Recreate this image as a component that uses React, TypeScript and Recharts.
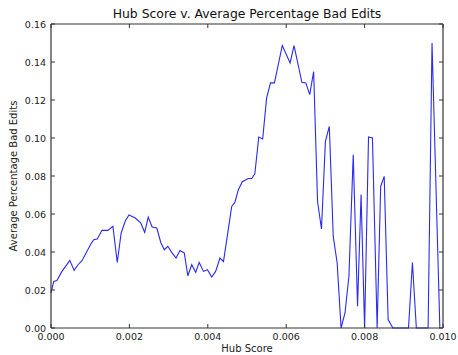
import React from 'react';
import { LineChart, Line, XAxis, YAxis } from 'recharts';

// Hub score (x) and average share of bad edits (y)
const hubScore = [
  0.0, 0.00007, 0.00015, 0.00028, 0.00048, 0.00059, 0.00069, 0.00079, 0.00103, 0.00109,
  0.00118, 0.0013, 0.00145, 0.00158, 0.00169, 0.00179, 0.0019, 0.00199, 0.00215, 0.00229,
  0.00239, 0.00248, 0.00258, 0.0027, 0.0028, 0.00289, 0.00298, 0.00308, 0.00319, 0.00329,
  0.0034, 0.00349, 0.00359, 0.00369, 0.00378, 0.00389, 0.00399, 0.0041, 0.0042, 0.00431,
  0.0044, 0.00461, 0.00469, 0.00478, 0.00488, 0.00503, 0.00512, 0.0052, 0.0053,
  0.0054, 0.0055, 0.0056, 0.0057, 0.0059, 0.0061, 0.0062, 0.0064, 0.0065, 0.0066,
  0.0067, 0.0068, 0.0069, 0.007, 0.0071, 0.0072, 0.0073, 0.0074, 0.0075, 0.0076,
  0.00771, 0.00782, 0.00791, 0.008, 0.0081, 0.0082, 0.00832, 0.00841, 0.0085, 0.0086,
  0.00872, 0.00912, 0.00922, 0.00932, 0.00962, 0.00972, 0.00992,
];

const badEdits = [
  0.0184, 0.0245, 0.025, 0.0298, 0.0356, 0.0303, 0.0333, 0.0354, 0.0447, 0.0465,
  0.0468, 0.0514, 0.0514, 0.0535, 0.0345, 0.05, 0.0566, 0.0595, 0.0579, 0.0553,
  0.0503, 0.0584, 0.0532, 0.0526, 0.045, 0.0412, 0.043, 0.0398, 0.0368, 0.0408,
  0.0395, 0.0275, 0.0333, 0.0293, 0.0345, 0.0298, 0.0307, 0.0268, 0.0298, 0.0368,
  0.035, 0.064, 0.0661, 0.0728, 0.077, 0.0787, 0.0787, 0.0812, 0.1005,
  0.0995, 0.121, 0.129, 0.129, 0.1487, 0.1395, 0.1486, 0.1293, 0.129, 0.1228,
  0.135, 0.0666, 0.0521, 0.0982, 0.1061, 0.0482, 0.0342, 0, 0.0079, 0.0272,
  0.0912, 0.0114, 0.0702, 0, 0.1005, 0.1, 0, 0.0745, 0.0798, 0.0044,
  0, 0, 0.0345, 0, 0, 0.15, 0,
];

const xTicks = [0, 0.002, 0.004, 0.006, 0.008, 0.01];
const yTicks = [0, 0.02, 0.04, 0.06, 0.08, 0.1, 0.12, 0.14, 0.16];

const title = 'Hub Score v. Average Percentage Bad Edits';
const xLabel = 'Hub Score';
const yLabel = 'Average Percentage Bad Edits';

const data = hubScore.map((h, i) => ({ hub: h, bad: badEdits[i] }));

const FONT = '"DejaVu Sans", sans-serif';
const FRAME = '#333';
const TICK_LEN = 4;

const BottomTick = (p: any) => (
  <g>
    <line x1={p.x} x2={p.x} y1={p.y} y2={p.y - TICK_LEN} stroke={FRAME} />
    <text x={p.x} y={p.y + 12} textAnchor="middle" fontSize={9.5} fontFamily={FONT} fill="#222">
      {Number(p.payload.value).toFixed(3)}
    </text>
  </g>
);

const TopTick = (p: any) => (
  <line x1={p.x} x2={p.x} y1={p.y} y2={p.y + TICK_LEN} stroke={FRAME} />
);

const LeftTick = (p: any) => (
  <g>
    <line x1={p.x} x2={p.x + TICK_LEN} y1={p.y} y2={p.y} stroke={FRAME} />
    <text x={p.x - 5} y={p.y + 3.5} textAnchor="end" fontSize={9.5} fontFamily={FONT} fill="#222">
      {Number(p.payload.value).toFixed(2)}
    </text>
  </g>
);

const RightTick = (p: any) => (
  <line x1={p.x} x2={p.x - TICK_LEN} y1={p.y} y2={p.y} stroke={FRAME} />
);

export default function App() {
  return (
    <div style={{ position: 'absolute', left: 0, top: 0, width: 458, height: 355, background: '#fff' }}>
      <div
        style={{
          position: 'absolute', left: 51, width: 392, top: 6, textAlign: 'center',
          fontFamily: FONT, fontSize: 12.4, color: '#111', lineHeight: '16px',
        }}
      >
        {title}
      </div>
      <div
        style={{
          position: 'absolute', left: 51, width: 392, top: 342, textAlign: 'center',
          fontFamily: FONT, fontSize: 10, color: '#222', lineHeight: '13px',
        }}
      >
        {xLabel}
      </div>
      <div style={{ position: 'absolute', left: 14, top: 176, width: 0, height: 0 }}>
        <div
          style={{
            position: 'absolute', left: -150, top: -7, width: 300, textAlign: 'center',
            transform: 'rotate(-90deg)', fontFamily: FONT, fontSize: 10, color: '#222', lineHeight: '14px',
          }}
        >
          {yLabel}
        </div>
      </div>
      <div style={{ position: 'absolute', left: 0, top: 0 }}>
        <LineChart width={458} height={355} data={data} margin={{ top: 23, right: 14, bottom: 0, left: 0 }}>
          <XAxis
            xAxisId="bottom"
            dataKey="hub"
            type="number"
            domain={[0, 0.01]}
            ticks={xTicks}
            interval={0}
            height={27}
            tickSize={0}
            tickMargin={0}
            tickLine={false}
            axisLine={{ stroke: FRAME, strokeWidth: 1.2 }}
            tick={<BottomTick />}
          />
          <XAxis
            xAxisId="top"
            orientation="top"
            dataKey="hub"
            type="number"
            domain={[0, 0.01]}
            allowDataOverflow
            ticks={xTicks}
            interval={0}
            height={1}
            tickSize={0}
            tickMargin={0}
            tickLine={false}
            axisLine={{ stroke: FRAME, strokeWidth: 1.2 }}
            tick={<TopTick />}
          />
          <YAxis
            yAxisId="left"
            type="number"
            domain={[0, 0.16]}
            ticks={yTicks}
            interval={0}
            width={51}
            tickSize={0}
            tickMargin={0}
            tickLine={false}
            axisLine={{ stroke: FRAME, strokeWidth: 1.2 }}
            tick={<LeftTick />}
          />
          <YAxis
            yAxisId="right"
            orientation="right"
            type="number"
            domain={[0, 0.16]}
            allowDataOverflow
            ticks={yTicks}
            interval={0}
            width={1}
            tickSize={0}
            tickMargin={0}
            tickLine={false}
            axisLine={{ stroke: FRAME, strokeWidth: 1.2 }}
            tick={<RightTick />}
          />
          <Line
            xAxisId="bottom"
            yAxisId="left"
            type="linear"
            dataKey="bad"
            stroke="#2a2af0"
            strokeWidth={1.1}
            dot={false}
            isAnimationActive={false}
          />
        </LineChart>
      </div>
    </div>
  );
}
